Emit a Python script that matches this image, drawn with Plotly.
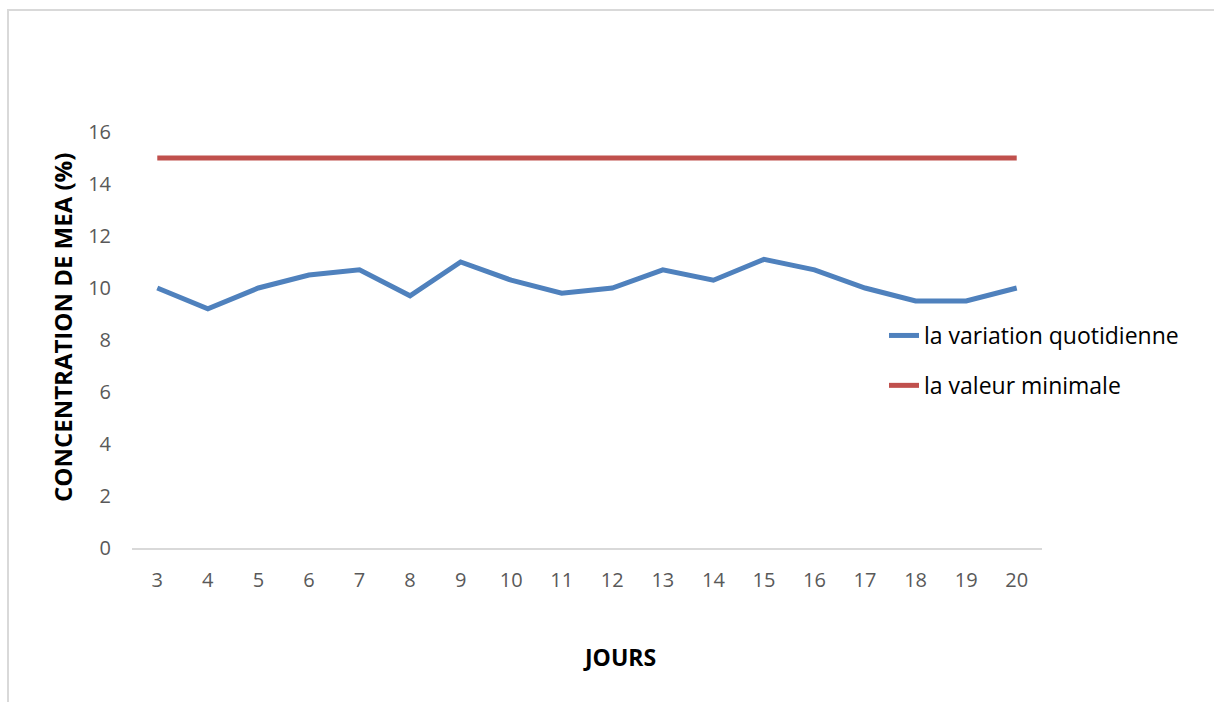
import plotly.graph_objects as go

# Daily MEA concentration (%) versus the minimum required value
jours = [3, 4, 5, 6, 7, 8, 9, 10, 11, 12, 13, 14, 15, 16, 17, 18, 19, 20]
variation_quotidienne = [10, 9.2, 10, 10.5, 10.7, 9.7, 11, 10.3, 9.8, 10,
                         10.7, 10.3, 11.1, 10.7, 10, 9.5, 9.5, 10]
valeur_minimale = [15] * len(jours)

y_ticks = [0, 2, 4, 6, 8, 10, 12, 14, 16]

x_labels = [str(j) for j in jours]

FONT = "'Open Sans', Calibri, sans-serif"

fig = go.Figure()
fig.add_trace(go.Scatter(
    x=x_labels, y=variation_quotidienne, mode="lines",
    name="la variation quotidienne", legendgroup="a",
    line=dict(color="#4F81BD", width=5),
))
fig.add_trace(go.Scatter(
    x=x_labels, y=valeur_minimale, mode="lines",
    name="la valeur minimale", legendgroup="b",
    line=dict(color="#C0504D", width=5),
))

L, R, T, B = 132, 172, 132, 154
W, H = 1214, 702
pw, ph = W - L - R, H - T - B

def px_x(p):
    return (p - L) / pw

def px_y(p):
    return (H - B - p) / ph

fig.update_layout(
    width=W, height=H,
    margin=dict(l=L, r=R, t=T, b=B),
    paper_bgcolor="white", plot_bgcolor="white",
    font=dict(family=FONT, color="#595959", size=20),
    showlegend=True,
    legend=dict(
        x=px_x(884), y=px_y(314), xanchor="left", yanchor="top",
        font=dict(family=FONT, size=23, color="#000000"),
        bgcolor="rgba(0,0,0,0)", tracegroupgap=17,
        traceorder="grouped", itemwidth=30,
    ),
    xaxis=dict(
        type="category", range=[-0.5, len(jours) - 0.5],
        showgrid=False, showline=True,
        linecolor="#D9D9D9", linewidth=1.5, ticks="",
        ticklabelstandoff=13,
        tickfont=dict(family=FONT, size=20, color="#595959"),
        fixedrange=True,
    ),
    yaxis=dict(
        range=[0, 16], tickvals=y_ticks, showgrid=False, zeroline=False,
        showline=False, ticks="", ticklabelstandoff=20,
        tickfont=dict(family=FONT, size=20, color="#595959"),
        fixedrange=True,
    ),
    annotations=[
        dict(text="<b>CONCENTRATION DE MEA (%)</b>", xref="paper",
             yref="paper", x=px_x(62), y=px_y(328), textangle=-90,
             xanchor="center", yanchor="middle", showarrow=False,
             font=dict(family=FONT, size=24, color="#000000")),
        dict(text="<b>JOURS</b>", xref="paper", yref="paper",
             x=px_x(619), y=px_y(657), xanchor="center", yanchor="middle",
             showarrow=False,
             font=dict(family=FONT, size=23, color="#000000")),
    ],
    shapes=[
        dict(type="rect", xref="paper", yref="paper",
             x0=px_x(8), x1=px_x(1230), y0=px_y(720), y1=px_y(10),
             line=dict(color="#D9D9D9", width=2), fillcolor="rgba(0,0,0,0)",
             layer="below"),
    ],
)

fig.write_html("out.html")
